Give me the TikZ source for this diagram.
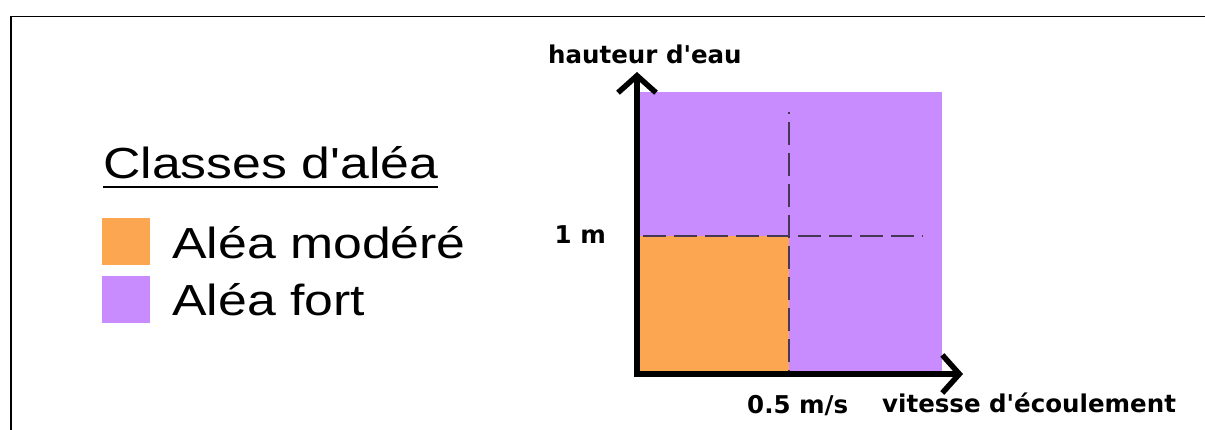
\documentclass[tikz,border=0pt]{standalone}
\usepackage{fontspec}
\setmainfont{Liberation Sans}
\newfontfamily\legendfont{Liberation Sans}[FakeStretch=1.19]
\newfontfamily\axisfont{DejaVu Sans}
\usetikzlibrary{arrows.meta}
\definecolor{aleamod}{RGB}{252,166,82}
\definecolor{aleafort}{RGB}{200,140,255}
\definecolor{seuil}{RGB}{70,55,85}

\begin{document}
\begin{tikzpicture}[x=1pt, y=-1pt,
        legtext/.style={anchor=base west, inner sep=0pt,
                font=\legendfont\fontsize{43.5}{50}\selectfont},
        axlabel/.style={anchor=base west, inner sep=0pt,
                font=\axisfont\bfseries\fontsize{24.5}{28}\selectfont},
        swatch/.style={minimum width=48pt, minimum height=47pt, inner sep=0pt},
        axis/.style={line width=5.5pt, -{Straight Barb[length=17pt, width=38pt]}},
        threshold/.style={seuil, line width=1.4pt, dash pattern=on 23pt off 8pt}
    ]
    \useasboundingbox (0,0) rectangle (1205,429);
    \draw[line width=2pt] (11,432) -- (11,16.5);
    \draw[line width=1.2pt] (10,16.5) -- (1212,16.5);

    % legend
    \node[legtext] (title) at (103,178) {Classes d'aléa};
    \draw[line width=2.5pt] ([yshift=-9pt]title.base west) -- ([yshift=-9pt]title.base east);
    \node[swatch, fill=aleamod] (modsq) at (126,241.5) {};
    \node[swatch, fill=aleafort] (fortsq) at (126,299) {};
    \node[legtext] (modtxt) at (172,258) {Aléa modéré};
    \node[legtext] (forttxt) at (172,315) {Aléa fort};

    % zones
    \fill[aleafort] (637,92) rectangle (942,374);
    \fill[aleamod] (637,236) rectangle (789,374);

    \coordinate (orig) at (637,374);
    \coordinate (ytip) at (637,72);
    \coordinate (xtip) at (963,374);
    \coordinate (vtop) at (789,112);
    \coordinate (vbot) at (789,374);
    \coordinate (hleft) at (643,236);
    \coordinate (hright) at (923,236);

    \draw[threshold, dash phase=19pt] (vbot) -- (vtop);
    \draw[threshold] (hleft) -- (hright);

    \draw[axis] ([yshift=-2.75pt]orig) -- (ytip);
    \draw[axis] ([xshift=-2.75pt]orig) -- (xtip);

    \node[axlabel] (ylab) at (548,63) {hauteur d'eau};
    \node[axlabel, anchor=base east] (hval) at (606,243) {1 m};
    \node[axlabel] (vval) at (747,413) {0.5 m/s};
    \node[axlabel] (xlab) at (882,412) {vitesse d'écoulement};
\end{tikzpicture}
\end{document}
